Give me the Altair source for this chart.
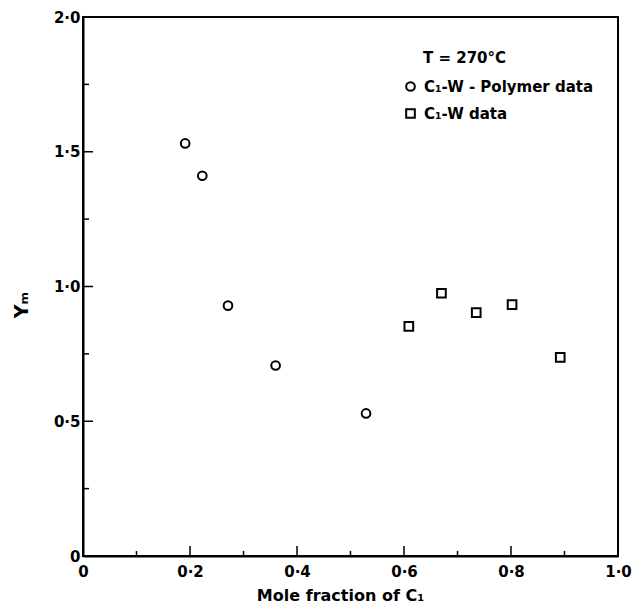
import altair as alt
import pandas as pd

# --- data ---
poly_x = [0.191, 0.223, 0.271, 0.360, 0.529]
poly_y = [1.531, 1.411, 0.929, 0.707, 0.529]
cw_x = [0.609, 0.670, 0.735, 0.802, 0.892]
cw_y = [0.852, 0.975, 0.903, 0.933, 0.737]
series_names = ["C\u2081-W - Polymer data", "C\u2081-W  data"]

x_major_ticks = [0.2, 0.4, 0.6, 0.8]
x_minor_ticks = [0.1, 0.3, 0.5, 0.7, 0.9]
y_major_ticks = [0.5, 1.0, 1.5]
y_minor_ticks = [0.25, 0.75, 1.25, 1.75]
x_label_values = [0, 0.2, 0.4, 0.6, 0.8, 1.0]
y_label_values = [0, 0.5, 1.0, 1.5, 2.0]

W, H = 535, 539
FONT = "DejaVu Sans"

df = pd.DataFrame({
    "x": poly_x + cw_x,
    "y": poly_y + cw_y,
    "series": [series_names[0]] * len(poly_x) + [series_names[1]] * len(cw_x),
})

label_expr = "datum.value == 0 ? '0' : replace(format(datum.value, '.1f'), '.', '\u00b7')"

xscale = alt.Scale(domain=[0, 1], nice=False)
yscale = alt.Scale(domain=[0, 2], nice=False)

points = alt.Chart(df).mark_point(filled=False, strokeWidth=2, color="black", opacity=1).encode(
    x=alt.X("x:Q", scale=xscale,
            axis=alt.Axis(values=x_label_values, labelExpr=label_expr, ticks=False, grid=False,
                          labelPadding=8, labelFontSize=15, labelFont=FONT, labelFontWeight="bold",
                          labelColor="black", domainColor="black", domainWidth=2,
                          title="Mole fraction of C\u2081", titleFont=FONT, titleFontSize=16,
                          titleFontWeight="bold", titleColor="black", titlePadding=8,
                          titleX=257,
                          labelFlush=False, labelOverlap=False)),
    y=alt.Y("y:Q", scale=yscale,
            axis=alt.Axis(values=y_label_values, labelExpr=label_expr, ticks=False, grid=False,
                          labelPadding=3, labelFontSize=15, labelFont=FONT, labelFontWeight="bold",
                          labelColor="black", domainColor="black", domainWidth=2,
                          title="Y\u2098", titleFont=FONT, titleFontSize=19, titleFontWeight="bold",
                          titleColor="black", titleX=-52, titleY=H / 2 + 18,
                          labelFlush=False, labelOverlap=False)),
    shape=alt.Shape("series:N",
                    scale=alt.Scale(domain=series_names, range=["circle", "square"]),
                    legend=alt.Legend(orient="none", legendX=320, legendY=62, title=None,
                                      labelFont=FONT, labelFontSize=15, labelFontWeight="bold",
                                      labelColor="black", symbolStrokeColor="black",
                                      symbolStrokeWidth=2, symbolFillColor="white",
                                      symbolSize=75, rowPadding=10, labelOffset=6,
                                      labelLimit=400)),
    size=alt.value(75),
)

xmaj = alt.Chart(pd.DataFrame({"t": x_major_ticks})).mark_rule(color="black", strokeWidth=1.5).encode(
    x=alt.X("t:Q", scale=xscale), y=alt.value(H), y2=alt.value(H - 10))
xmin = alt.Chart(pd.DataFrame({"t": x_minor_ticks})).mark_rule(color="black", strokeWidth=1.5).encode(
    x=alt.X("t:Q", scale=xscale), y=alt.value(H), y2=alt.value(H - 5))
ymaj = alt.Chart(pd.DataFrame({"t": y_major_ticks})).mark_rule(color="black", strokeWidth=1.5).encode(
    y=alt.Y("t:Q", scale=yscale), x=alt.value(0), x2=alt.value(10))
ymin = alt.Chart(pd.DataFrame({"t": y_minor_ticks})).mark_rule(color="black", strokeWidth=1.5).encode(
    y=alt.Y("t:Q", scale=yscale), x=alt.value(0), x2=alt.value(6))

temp_text = alt.Chart(pd.DataFrame({"label": ["T = 270\u00b0C"]})).mark_text(
    align="left", baseline="middle", font=FONT, fontSize=15, fontWeight="bold", color="black"
).encode(x=alt.value(340), y=alt.value(41), text="label:N")

chart = alt.layer(points, xmaj, xmin, ymaj, ymin, temp_text).properties(
    width=W, height=H,
    autosize=alt.AutoSizeParams(type="none"),
    padding={"left": 83, "top": 17, "right": 24, "bottom": 55},
    background="white",
).configure_view(stroke="black", strokeWidth=2)

chart.save("out.html", embed_options={"renderer": "svg", "actions": False})
